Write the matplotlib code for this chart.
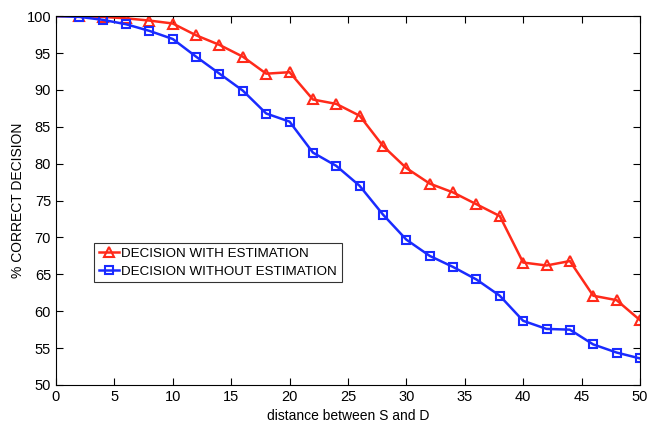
import matplotlib
matplotlib.use('Agg')
import matplotlib.pyplot as plt
import numpy as np

# distance between source and destination
distance = [0, 2, 4, 6, 8, 10, 12, 14, 16, 18, 20, 22, 24, 26, 28, 30,
            32, 34, 36, 38, 40, 42, 44, 46, 48, 50]

# percentage of correct decisions
with_est = [100, 100, 99.9, 99.7, 99.4, 99.0, 97.4, 96.1, 94.5, 92.2, 92.4,
            88.7, 88.1, 86.5, 82.4, 79.4, 77.3, 76.1, 74.5, 72.9, 66.6,
            66.2, 66.8, 62.1, 61.5, 58.8]
without_est = [100, 99.9, 99.5, 98.9, 98.0, 96.9, 94.5, 92.2, 89.9, 86.8,
               85.7, 81.5, 79.7, 77.0, 73.1, 69.7, 67.5, 66.0, 64.3, 62.1,
               58.7, 57.6, 57.5, 55.5, 54.4, 53.6]

plt.rcParams['font.family'] = ['Liberation Sans', 'DejaVu Sans']

fig = plt.figure(figsize=(6.51, 4.36), dpi=100)
ax = fig.add_axes([0.086, 0.117, 0.897, 0.846])

ax.plot(distance, with_est, color='#ff2a1a', lw=1.8, marker='^', ms=7,
        mfc='none', mew=1.5, markevery=list(range(1, len(distance))),
        label='DECISION WITH ESTIMATION')
ax.plot(distance, without_est, color='#1a2bff', lw=1.8, marker='s', ms=6,
        mfc='none', mew=1.5, markevery=list(range(1, len(distance))),
        label='DECISION WITHOUT ESTIMATION')

ax.set_xlim(0, 50)
ax.set_ylim(50, 100)
ax.set_xticks(np.arange(0, 51, 5))
ax.set_yticks(np.arange(50, 101, 5))
ax.tick_params(direction='in', top=True, right=True, labelsize=10.5,
               length=5, width=0.8)
for s in ax.spines.values():
    s.set_linewidth(0.8)

ax.set_xlabel('distance between S and D', fontsize=10)
ax.set_ylabel('% CORRECT DECISION', fontsize=10, labelpad=1)

leg = ax.legend(loc='upper left', bbox_to_anchor=(0.065, 0.385),
                fontsize=9.6, frameon=True, fancybox=False,
                borderpad=0.35, handlelength=1.5, handletextpad=0.2,
                labelspacing=0.4, borderaxespad=0)
leg.get_frame().set_edgecolor('black')
leg.get_frame().set_linewidth(0.8)

fig.savefig('out.png', dpi=100)
